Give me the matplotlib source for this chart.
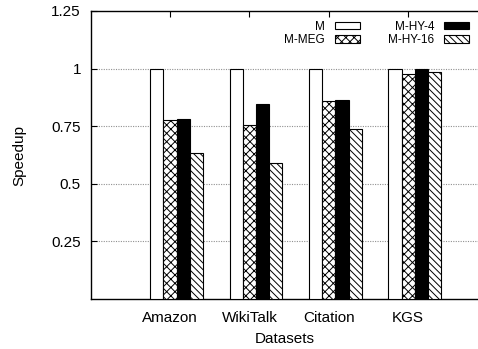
import matplotlib
matplotlib.use("Agg")
import matplotlib.pyplot as plt
import numpy as np

plt.rcParams['font.family'] = ['Liberation Sans', 'DejaVu Sans']
plt.rcParams['hatch.linewidth'] = 0.7

datasets = ["Amazon", "WikiTalk", "Citation", "KGS"]
series_names = ["M", "M-MEG", "M-HY-4", "M-HY-16"]
m_vals = [1.0, 1.0, 1.0, 1.0]
meg_vals = [0.775, 0.757, 0.858, 0.975]
hy4_vals = [0.78, 0.848, 0.862, 0.998]
hy16_vals = [0.633, 0.59, 0.738, 0.985]
yticks = [0.25, 0.5, 0.75, 1.0, 1.25]
ytick_labels = ["0.25", "0.5", "0.75", "1", "1.25"]

styles = [
    dict(color="white", hatch=None),
    dict(color="white", hatch="xxxx"),
    dict(color="black", hatch=None),
    dict(color="white", hatch="\\\\\\\\\\"),
]

fig = plt.figure(figsize=(4.78, 3.49), dpi=100)
ax = fig.add_axes([90.7 / 478, 50 / 349, 1 - 90.7 / 478, 288 / 349])

x = np.arange(len(datasets))
width = 1 / 6
for i, (name, vals) in enumerate(zip(series_names, [m_vals, meg_vals, hy4_vals, hy16_vals])):
    st = styles[i]
    ax.bar(x + (i - 1) * width, vals, width, facecolor=st["color"], edgecolor="black",
           hatch=st["hatch"], linewidth=0.8, label=name, zorder=3)

ax.set_xlim(-1, 3.88)
ax.set_ylim(0, 1.25)
ax.set_yticks(yticks)
ax.set_yticklabels(ytick_labels)
ax.set_xticks(x)
ax.set_xticklabels(datasets)
ax.tick_params(axis="both", direction="in", length=4, width=0.8, labelsize=11, top=True, right=False)
ax.tick_params(axis="y", pad=7)
ax.tick_params(axis="x", pad=9)
ax.spines["right"].set_visible(False)
for s in ["left", "top", "bottom"]:
    ax.spines[s].set_linewidth(1.0)

for yv in yticks[:-1]:
    ax.axhline(yv, color="#909090", linestyle=(0, (1, 1.2)), linewidth=0.8, zorder=1)

ax.set_ylabel("Speedup", fontsize=11, labelpad=18)
ax.set_xlabel("Datasets", fontsize=11, labelpad=5)

ax.legend(ncol=2, loc="upper right", bbox_to_anchor=(469 / 478, 1 - 21 / 349),
          bbox_transform=fig.transFigure, frameon=False, markerfirst=False,
          fontsize=8.5, handlelength=2.1, handleheight=0.55, handletextpad=0.85,
          columnspacing=2.4, labelspacing=0.1, borderpad=0, borderaxespad=0)

fig.savefig("out.png", dpi=100)
